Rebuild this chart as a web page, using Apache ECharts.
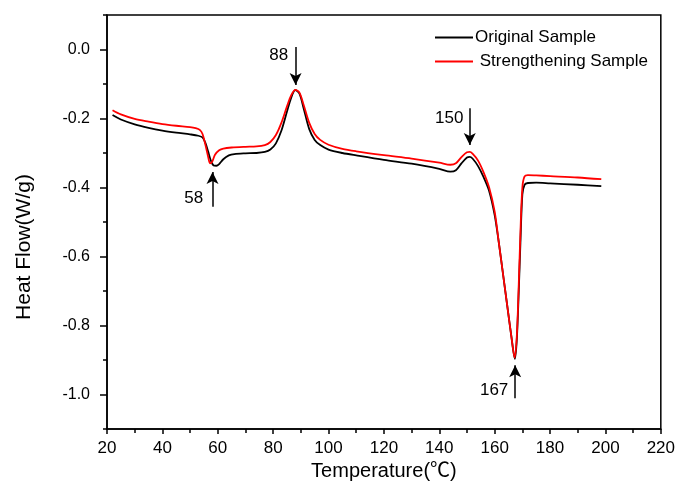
<!DOCTYPE html>
<html>
<head>
<meta charset="utf-8">
<script src="https://cdn.jsdelivr.net/npm/echarts@6/dist/echarts.min.js"></script>
<style>
  html, body { margin: 0; padding: 0; background: #fff; }
  #chart { width: 678px; height: 494px; }
</style>
</head>
<body>
<div id="chart"></div>
<script>
// 数据：温度 (℃) 与热流 (W/g)
const tempOriginal = [22, 25, 30, 35, 40, 45, 50, 53, 54.5, 55.5, 56.5, 57.5, 58.5, 59.5, 60.5, 62, 64, 66, 70, 74, 77, 79, 81, 83, 85, 86.5, 88, 89.5, 91, 93, 95, 97, 100, 105, 110, 120, 130, 140, 144, 146, 148, 150, 151, 152, 154, 156, 158, 160, 161.5, 163, 164.5, 166, 167.3, 168, 168.7, 169.3, 170, 170.8, 172, 175, 180, 190, 198.5];
const heatOriginal = [-0.190, -0.203, -0.217, -0.227, -0.235, -0.241, -0.246, -0.250, -0.255, -0.270, -0.295, -0.322, -0.336, -0.337, -0.332, -0.318, -0.307, -0.303, -0.301, -0.300, -0.297, -0.290, -0.272, -0.235, -0.180, -0.140, -0.118, -0.128, -0.170, -0.230, -0.262, -0.277, -0.290, -0.300, -0.307, -0.320, -0.331, -0.346, -0.354, -0.350, -0.330, -0.313, -0.311, -0.316, -0.338, -0.370, -0.410, -0.480, -0.560, -0.650, -0.740, -0.830, -0.897, -0.840, -0.700, -0.560, -0.420, -0.392, -0.387, -0.386, -0.388, -0.392, -0.396];

const tempStrength = [22, 25, 30, 35, 40, 45, 50, 52, 53.5, 54.5, 55.5, 56.5, 57.2, 58, 59, 60.5, 62, 65, 70, 74, 77, 79, 81, 83, 85, 86.5, 88, 89.5, 91, 93, 95, 97, 100, 105, 110, 120, 130, 140, 144, 146, 148, 150, 151, 152, 154, 156, 158, 160, 161.5, 163, 164.5, 166, 167.2, 168, 168.7, 169.3, 170, 170.8, 172, 175, 180, 190, 198.5];
const heatStrength = [-0.176, -0.188, -0.201, -0.209, -0.216, -0.221, -0.225, -0.228, -0.233, -0.245, -0.275, -0.310, -0.330, -0.325, -0.305, -0.292, -0.287, -0.284, -0.282, -0.281, -0.277, -0.268, -0.248, -0.212, -0.165, -0.133, -0.117, -0.125, -0.160, -0.212, -0.245, -0.262, -0.276, -0.288, -0.295, -0.306, -0.316, -0.328, -0.334, -0.330, -0.312, -0.298, -0.297, -0.302, -0.322, -0.356, -0.400, -0.470, -0.560, -0.650, -0.740, -0.830, -0.893, -0.830, -0.680, -0.530, -0.400, -0.368, -0.364, -0.365, -0.367, -0.371, -0.376];

// 坐标轴刻度
const yMajorTicks = [-1.0, -0.8, -0.6, -0.4, -0.2, 0.0];
const yMinorTicks = [-1.1, -0.9, -0.7, -0.5, -0.3, -0.1, 0.1];

// 峰值标注：箭头 [温度, 起点, 终点]，文字位置
const peakLabels = ["58", "88", "150", "167"];
const arrowTemp = [58.1, 88.1, 151, 167.4];
const arrowFrom = [-0.456, 0.007, -0.170, -1.011];
const arrowTo = [-0.355, -0.103, -0.277, -0.915];
const labelTemp = [51.3, 82, 143.6, 159.8];
const labelHeat = [-0.431, -0.017, -0.199, -0.988];

const font = "'Liberation Sans', Arial, 'Noto Sans CJK SC', sans-serif";
const zip = (xs, ys) => xs.map((x, i) => [x, ys[i]]);

const chart = echarts.init(document.getElementById("chart"));

const option = {
    animation: false,
    backgroundColor: "#fff",
    textStyle: { fontFamily: font },
    grid: {
        left: 107,
        right: 16,
        top: 15,
        bottom: 65,
        show: true,
        borderColor: "#000",
        borderWidth: 1.5, // 外框
    },
    legend: {
        orient: "vertical",
        left: 435,
        top: 29,
        padding: 0,
        icon: "rect",
        itemWidth: 38,
        itemHeight: 2,
        itemGap: 7,
        textStyle: { fontSize: 17, color: "#000", fontFamily: font, padding: [0, 0, 0, -3] },
        // 原图第二项文字前有一个空格
        formatter: (name) => (name === "Strengthening Sample" ? " " + name : name),
        data: ["Original Sample", "Strengthening Sample"],
    },
    xAxis: {
        type: "value",
        min: 20,
        max: 220,
        interval: 20,
        name: "Temperature(℃)",
        nameLocation: "middle",
        nameGap: 32,
        nameTextStyle: { fontSize: 20, color: "#000", fontFamily: font },
        axisLine: { onZero: false, lineStyle: { color: "#000", width: 1.5 } },
        axisTick: { length: 5, lineStyle: { color: "#000", width: 1.5 } },
        minorTick: { show: true, splitNumber: 2, length: 4, lineStyle: { color: "#000", width: 1.5 } },
        axisLabel: { fontSize: 17, color: "#000", margin: 11 },
        splitLine: { show: false },
    },
    yAxis: [
        {
            type: "value",
            min: -1.1,
            max: 0.1,
            name: "Heat Flow(W/g)",
            nameLocation: "middle",
            nameGap: 72,
            nameRotate: 90,
            nameTextStyle: { fontSize: 21, color: "#000", fontFamily: font, padding: [0, 50, 0, 0] },
            axisLine: { lineStyle: { color: "#000", width: 1.5 } },
            axisTick: { customValues: yMajorTicks, length: 7, lineStyle: { color: "#000", width: 1.5 } },
            axisLabel: {
                customValues: yMajorTicks,
                fontSize: 16,
                color: "#000",
                margin: 17,
                formatter: (v) => v.toFixed(1),
            },
            splitLine: { show: false },
        },
        {
            // 次刻度
            type: "value",
            position: "left",
            min: -1.1,
            max: 0.1,
            axisLine: { show: false },
            axisTick: { customValues: yMinorTicks, length: 4, lineStyle: { color: "#000", width: 1.5 } },
            axisLabel: { show: false },
            splitLine: { show: false },
        },
    ],
    series: [
        {
            name: "Original Sample",
            type: "line",
            data: zip(tempOriginal, heatOriginal),
            symbol: "none",
            smooth: 0.3,
            lineStyle: { color: "#000", width: 1.8 },
            itemStyle: { color: "#000" },
            markLine: {
                silent: true,
                symbol: ["none", "arrow"],
                symbolSize: [9, 12],
                label: { show: false },
                lineStyle: { color: "#000", width: 1.5, type: "solid" },
                data: arrowTemp.map((t, i) => [
                    { coord: [t, arrowFrom[i]] },
                    { coord: [t, arrowTo[i]] },
                ]),
            },
            markPoint: {
                silent: true,
                symbol: "rect",
                symbolSize: 1,
                itemStyle: { color: "transparent" },
                label: { show: true, position: "inside", fontSize: 17, color: "#000", fontFamily: font },
                data: peakLabels.map((text, i) => ({
                    coord: [labelTemp[i], labelHeat[i]],
                    value: text,
                    label: { formatter: text },
                })),
            },
        },
        {
            name: "Strengthening Sample",
            type: "line",
            data: zip(tempStrength, heatStrength),
            symbol: "none",
            smooth: 0.3,
            lineStyle: { color: "#ff0000", width: 1.8 },
            itemStyle: { color: "#ff0000" },
        },
    ],
};

chart.setOption(option);
</script>
</body>
</html>
